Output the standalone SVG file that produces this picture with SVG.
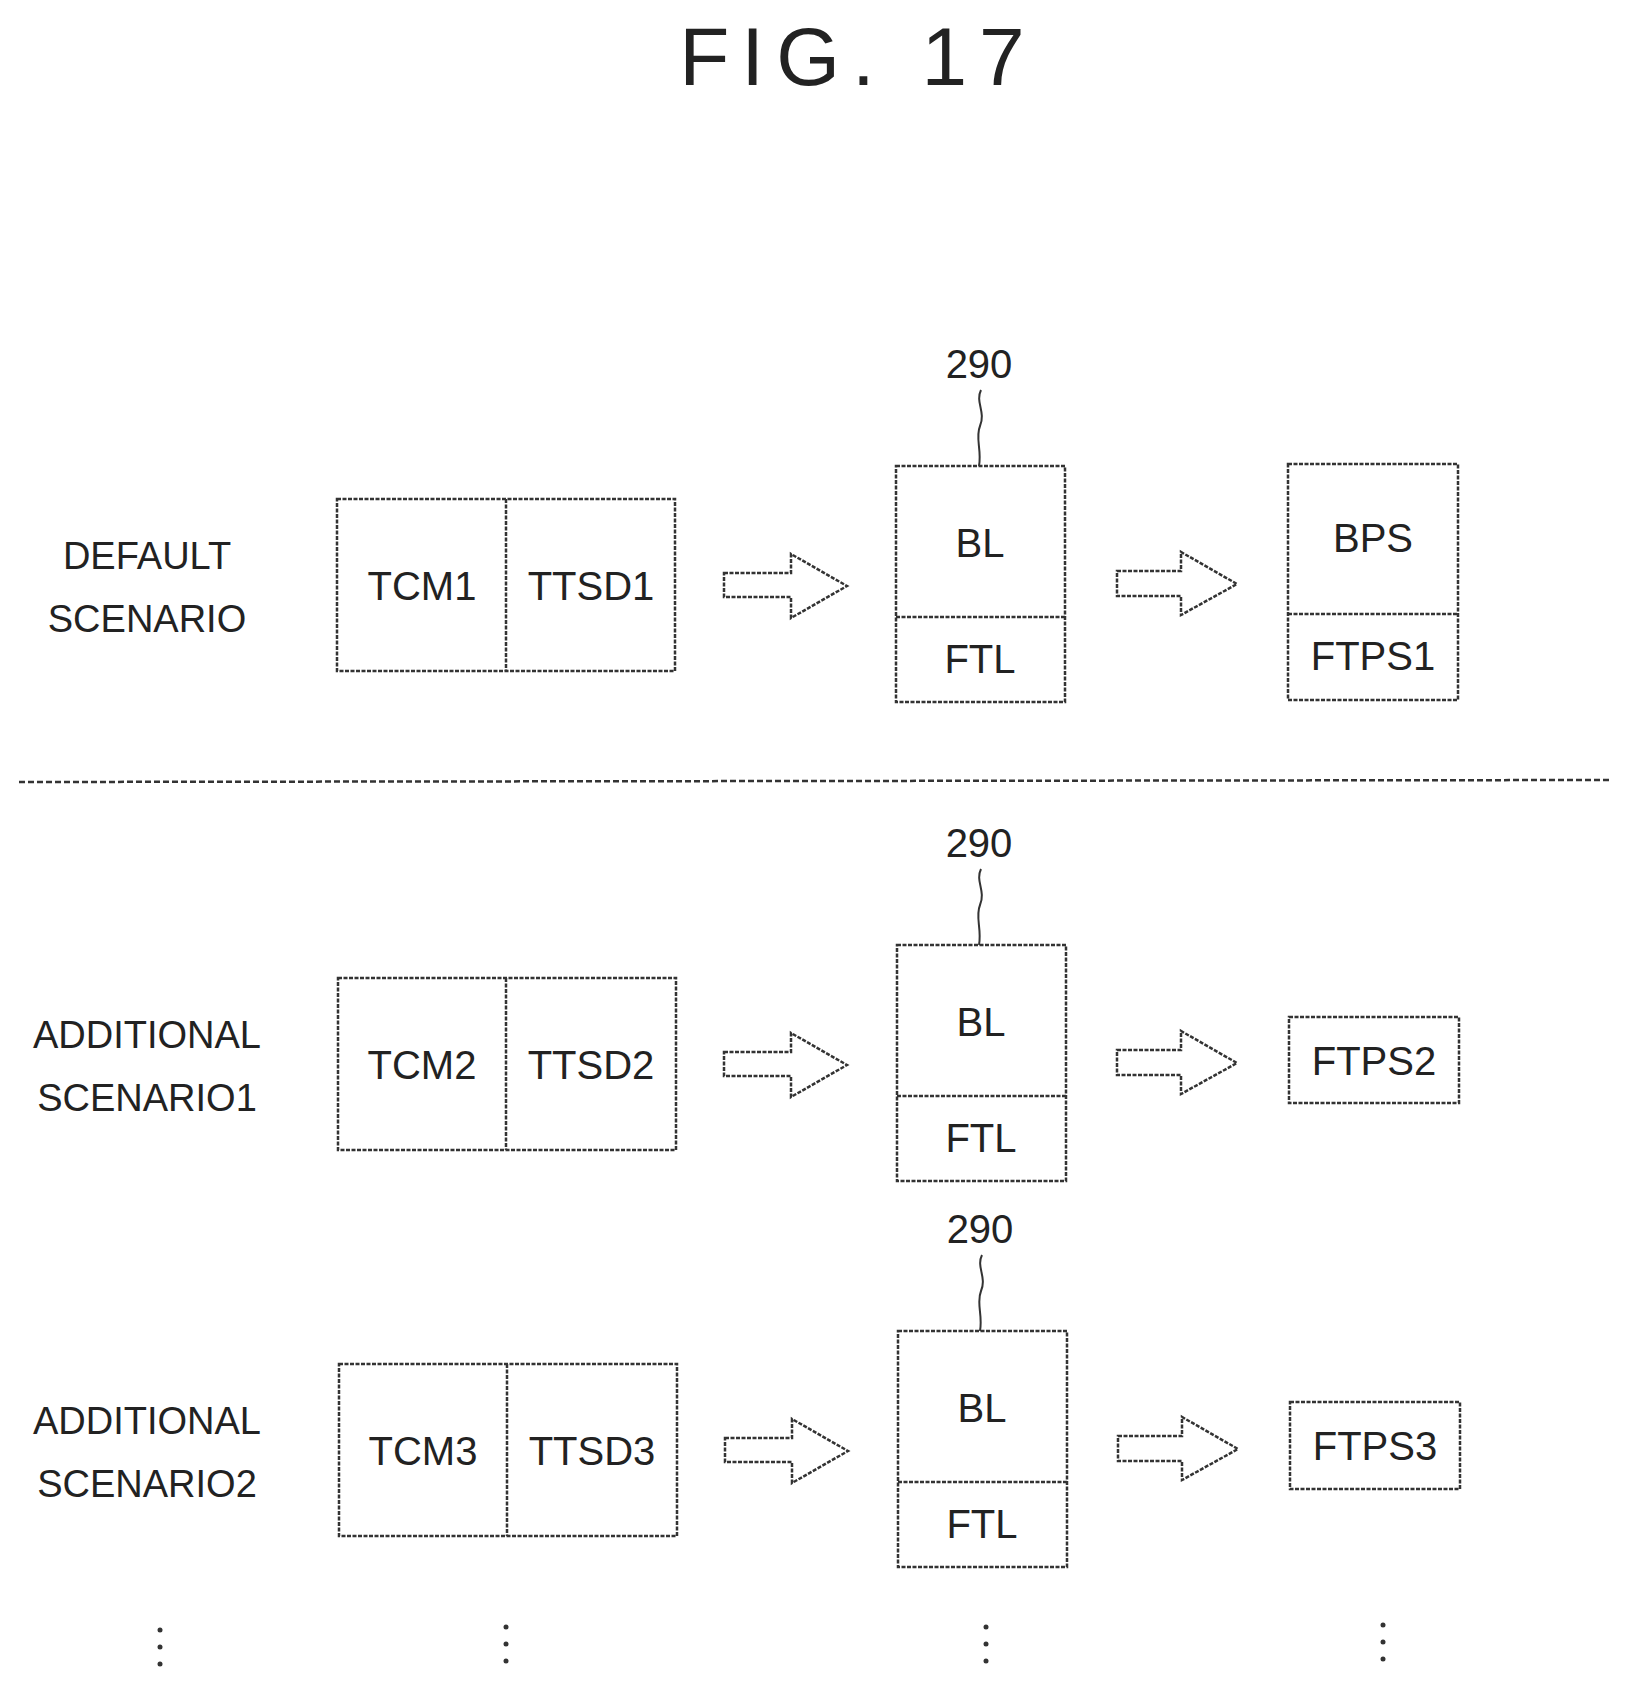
<svg xmlns="http://www.w3.org/2000/svg" width="1635" height="1694" viewBox="0 0 1635 1694">
<style>
.b{fill:none;stroke:#333;stroke-width:2.5;stroke-dasharray:4 1.5}
.t{font-family:"Liberation Sans",Arial,sans-serif;font-size:40px;fill:#222;text-anchor:middle;dominant-baseline:central}
.s{font-family:"Liberation Sans",Arial,sans-serif;font-size:38px;fill:#222;text-anchor:middle;dominant-baseline:central}
.l{fill:none;stroke:#333;stroke-width:2}
.d{fill:#333}
</style>
<rect width="1635" height="1694" fill="#fff"/>
<text x="858" y="56" class="t" style="font-size:82px;letter-spacing:12px">FIG. 17</text>
<g id="connectors">
<line x1="19" y1="782" x2="1609" y2="780" stroke="#333" stroke-width="2.5" stroke-dasharray="6 3"/>
<g id="row1arrows">
<path class="b" d="M724,573 H791 V554 L847,586 L791,618 V597 H724 Z"/>
<path class="b" d="M1117,571 H1181 V552 L1237,584 L1181,615 V596 H1117 Z"/>
<path class="l" d="M981,390 c-6,12 5,22 -1,36 c-5,12 2,24 -1,40"/>
</g>
<g transform="translate(0,479)">
<path class="b" d="M724,573 H791 V554 L847,586 L791,618 V597 H724 Z"/>
<path class="b" d="M1117,571 H1181 V552 L1237,584 L1181,615 V596 H1117 Z"/>
<path class="l" d="M981,390 c-6,12 5,22 -1,36 c-5,12 2,24 -1,40"/>
</g>
<g transform="translate(1,865)">
<path class="b" d="M724,573 H791 V554 L847,586 L791,618 V597 H724 Z"/>
<path class="b" d="M1117,571 H1181 V552 L1237,584 L1181,615 V596 H1117 Z"/>
<path class="l" d="M981,390 c-6,12 5,22 -1,36 c-5,12 2,24 -1,40"/>
</g>
</g>
<g id="row1">
<text x="147" y="556" class="s">DEFAULT</text>
<text x="147" y="619" class="s">SCENARIO</text>
<g id="tcm1"><rect class="b" x="337" y="499" width="338" height="172"/><line class="b" x1="506" y1="499" x2="506" y2="671"/>
<text x="422" y="586" class="t">TCM1</text><text x="591" y="586" class="t">TTSD1</text></g>
<g id="bl1"><text x="979" y="364" class="t">290</text><rect class="b" x="896" y="466" width="169" height="236"/><line class="b" x1="896" y1="617" x2="1065" y2="617"/>
<text x="980" y="543" class="t">BL</text><text x="980" y="659" class="t">FTL</text></g>
<g id="bps1"><rect class="b" x="1288" y="464" width="170" height="236"/><line class="b" x1="1288" y1="614" x2="1458" y2="614"/>
<text x="1373" y="538" class="t">BPS</text><text x="1373" y="656" class="t">FTPS1</text></g>
</g>
<g id="row2" transform="translate(0,479)">
<text x="147" y="556" class="s">ADDITIONAL</text>
<text x="147" y="619" class="s">SCENARIO1</text>
<g id="tcm2"><rect class="b" x="338" y="499" width="338" height="172"/><line class="b" x1="506" y1="499" x2="506" y2="671"/>
<text x="422" y="586" class="t">TCM2</text><text x="591" y="586" class="t">TTSD2</text></g>
<g id="bl2"><text x="979" y="364" class="t">290</text><rect class="b" x="897" y="466" width="169" height="236"/><line class="b" x1="897" y1="617" x2="1066" y2="617"/>
<text x="981" y="543" class="t">BL</text><text x="981" y="659" class="t">FTL</text></g>
<g id="ftps2"><rect class="b" x="1289" y="538" width="170" height="86"/><text x="1374" y="582" class="t">FTPS2</text></g>
</g>
<g id="row3" transform="translate(1,865)">
<text x="146" y="556" class="s">ADDITIONAL</text>
<text x="146" y="619" class="s">SCENARIO2</text>
<g id="tcm3"><rect class="b" x="338" y="499" width="338" height="172"/><line class="b" x1="506" y1="499" x2="506" y2="671"/>
<text x="422" y="586" class="t">TCM3</text><text x="591" y="586" class="t">TTSD3</text></g>
<g id="bl3"><text x="979" y="364" class="t">290</text><rect class="b" x="897" y="466" width="169" height="236"/><line class="b" x1="897" y1="617" x2="1066" y2="617"/>
<text x="981" y="543" class="t">BL</text><text x="981" y="659" class="t">FTL</text></g>
<g id="ftps3"><rect class="b" x="1289" y="537" width="170" height="87"/><text x="1374" y="581" class="t">FTPS3</text></g>
</g>
<g id="ellipses">
<circle class="d" cx="160" cy="1630" r="2.5"/><circle class="d" cx="160" cy="1647" r="2.5"/><circle class="d" cx="160" cy="1664" r="2.5"/>
<circle class="d" cx="506" cy="1627" r="2.5"/><circle class="d" cx="506" cy="1644" r="2.5"/><circle class="d" cx="506" cy="1661" r="2.5"/>
<circle class="d" cx="986" cy="1627" r="2.5"/><circle class="d" cx="986" cy="1644" r="2.5"/><circle class="d" cx="986" cy="1661" r="2.5"/>
<circle class="d" cx="1383" cy="1625" r="2.5"/><circle class="d" cx="1383" cy="1642" r="2.5"/><circle class="d" cx="1383" cy="1659" r="2.5"/>
</g>
</svg>
